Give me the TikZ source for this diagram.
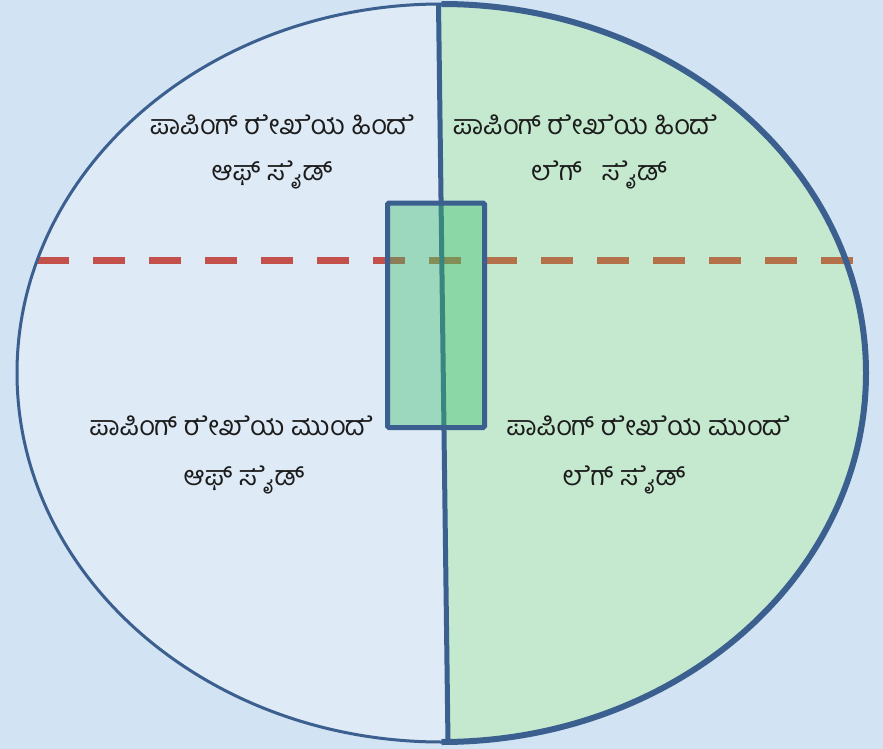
\documentclass[tikz,border=0pt]{standalone}
\usepackage{fontspec}
\newfontfamily\kan[Script=Kannada]{Hind Mysuru}
\newcommand{\zj}{\char"200D\relax}
\newcommand{\zn}{\char"200C\relax}
\definecolor{bgblue}{HTML}{D2E3F3}
\definecolor{inblue}{HTML}{DEEAF6}
\definecolor{fieldgreen}{HTML}{C5E9CF}
\definecolor{edge}{HTML}{3B5F8F}
\definecolor{dashred}{HTML}{C4504C}
\definecolor{dashbrown}{HTML}{B5714A}
\definecolor{boxfill}{HTML}{38BE6A}
\definecolor{txt}{HTML}{1C1C1C}
\tikzset{
  lbl/.style={font=\kan\fontsize{27}{27}\selectfont, text=txt, inner sep=0pt, anchor=center},
  dashline/.style={line width=7pt, dash pattern=on 32pt off 24pt},
}
\begin{document}
\begin{tikzpicture}[x=1pt,y=-1pt]
\useasboundingbox (0,0) rectangle (883,749);
\fill[bgblue] (0,0) rectangle (883,749);
% ellipse interior
\fill[inblue] (441.5,373) ellipse[x radius=424.5, y radius=369];
\begin{scope}
  \clip (439,-20) -- (448.5,770) -- (900,770) -- (900,-20) -- cycle;
  \fill[fieldgreen] (441.5,373) ellipse[x radius=424.5, y radius=369];
\end{scope}
% popping crease (dashed)
\coordinate (cl) at (37,260);
\coordinate (cm) at (429,260);
\coordinate (cr) at (853,260);
\draw[dashline, dashred] (cl) -- (cm);
\draw[dashline, dashbrown] (cm) -- (cr);
% ellipse outline
\draw[edge, line width=3pt] (441.5,373) ellipse[x radius=424.5, y radius=369];
\draw[edge, line width=6pt] (441.5,4) arc[start angle=-90, end angle=90, x radius=424.5, y radius=369];
% vertical line
\coordinate (vt) at (438.5,3);
\coordinate (vb) at (448,743);
\draw[edge, line width=5pt] (vt) -- (vb);
% pitch box
\filldraw[fill=boxfill, fill opacity=0.4, draw=edge, line width=5pt, rounded corners=1.5pt] (387.5,203) rectangle (484.5,427.5);
% labels
\node[lbl] (a1) at (282,125) {ಪಾಪಿಂಗ್ ರ\zj ೇಖ\zj ೆಯ ಹಿಂದ\zj ೆ};
\node[lbl] (a2) at (272,175) {ಆಫ್ ಸ\zj ೈಡ್};
\node[lbl] (b1) at (585,125) {ಪಾಪಿಂಗ್ ರ\zj ೇಖ\zj ೆಯ ಹಿಂದ\zj ೆ};
\node[lbl] (b2) at (599,175) {ಲ\zn ೆಗ್ \ \ ಸ\zj ೈಡ್};
\node[lbl] (c1) at (231,426) {ಪಾಪಿಂಗ್ ರ\zj ೇಖ\zj ೆಯ ಮುಂದ\zj ೆ};
\node[lbl] (c2) at (244,480) {ಆಫ್ ಸ\zj ೈಡ್};
\node[lbl] (d1) at (648,426) {ಪಾಪಿಂಗ್ ರ\zj ೇಖ\zj ೆಯ ಮುಂದ\zj ೆ};
\node[lbl] (d2) at (624,480) {ಲ\zn ೆಗ್ ಸ\zj ೈಡ್};
\end{tikzpicture}
\end{document}
